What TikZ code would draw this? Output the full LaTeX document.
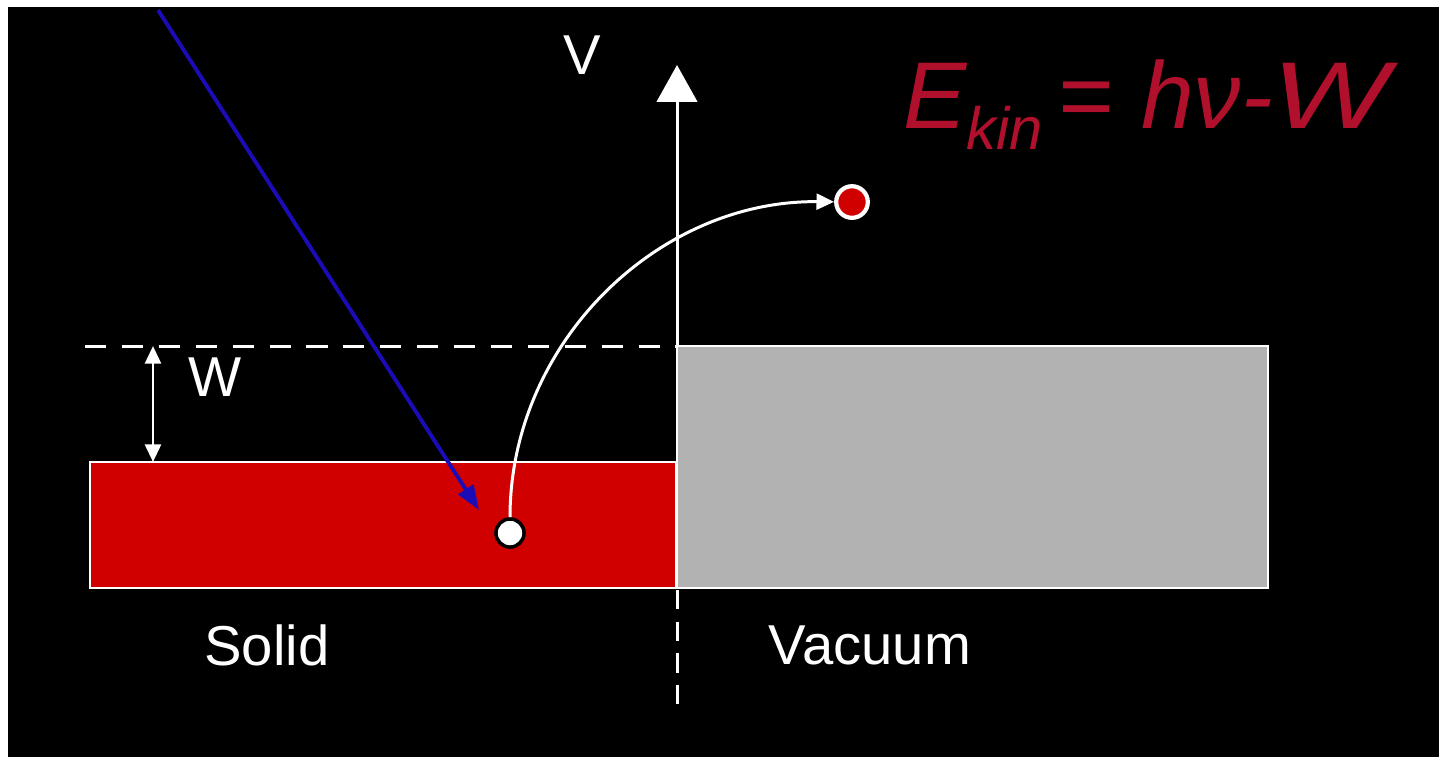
\documentclass[tikz,border=0pt]{standalone}
\usepackage{fontspec}
\setmainfont{Liberation Sans}
\definecolor{Solidcol}{HTML}{D00000}
\definecolor{Vaccol}{HTML}{B2B2B2}
\definecolor{Photcol}{HTML}{1C0CB8}
\definecolor{Eqcol}{HTML}{B0102C}
\usetikzlibrary{arrows.meta, positioning}
\tikzset{
    >={Triangle[length=5pt, width=4.5pt]},
    font=\fontsize{16}{18}\selectfont,
    level/.style={draw=white, line width=0.8pt},
    levelline/.style={white, dash pattern=on 6pt off 4.5pt}
}

\begin{document}
\begin{tikzpicture}[x=0.1mm, y=-0.1mm, line width=0.85pt]
    % Frame
    \useasboundingbox (0,0) rectangle (1439,757);
    \fill[white] (0,0) rectangle (1439,757);
    \fill[black] (8,7) rectangle (1439,757);

    % Solid and vacuum
    \filldraw[level, fill=Solidcol] (90,462) rectangle (676,588);
    \filldraw[level, fill=Vaccol] (677,346) rectangle (1268,588);
    \draw[levelline] (85,346) -- (677,346);
    \draw[levelline, dash pattern=on 5.5pt off 3.5pt] (677,590) -- (677,705);

    % Potential axis
    \coordinate (O) at (677,346);
    \coordinate (Vtop) at (677,65);
    \draw[white, -{Triangle[length=10.5pt, width=11.5pt]}] (O) -- (Vtop);
    \node[white] (Vlab) at (582,55) {V};

    % Work function
    \coordinate (Wtop) at (153,346);
    \coordinate (Wbot) at (153,462);
    \draw[white, <->] (Wtop) -- (Wbot);
    \node[white] (Wlab) at (215,377) {W};

    % Incoming photon
    \coordinate (photon) at (158,10);
    \coordinate (hit) at (479,510);
    \draw[Photcol, line width=1.1pt, -{Triangle[length=7pt, width=5pt]}] (photon) -- (hit);

    % Electron leaving the solid
    \node[circle, fill=white, draw=black, line width=1pt, inner sep=0pt, minimum size=8pt] (e) at (510,533) {};
    \node[circle, fill=Solidcol, draw=white, line width=1.2pt, inner sep=0pt, minimum size=9pt] (ion) at (852,202) {};
    \draw[white, ->] (e) .. controls (510,343) and (658,200) .. (ion);

    % Labels
    \node[white] (solidlab) at (267,645) {Solid};
    \node[white] (vaclab) at (870,645) {Vacuum};
    \node[Eqcol, anchor=base west, font=\fontsize{27}{30}\selectfont\itshape] (eq) at (890,128)
        {E\raisebox{-6pt}{\fontsize{17}{18}\selectfont kin}\hspace{0.15em}=\hspace{0.3em}hν-\scalebox{1.3}[1]{W}};
\end{tikzpicture}
\end{document}
